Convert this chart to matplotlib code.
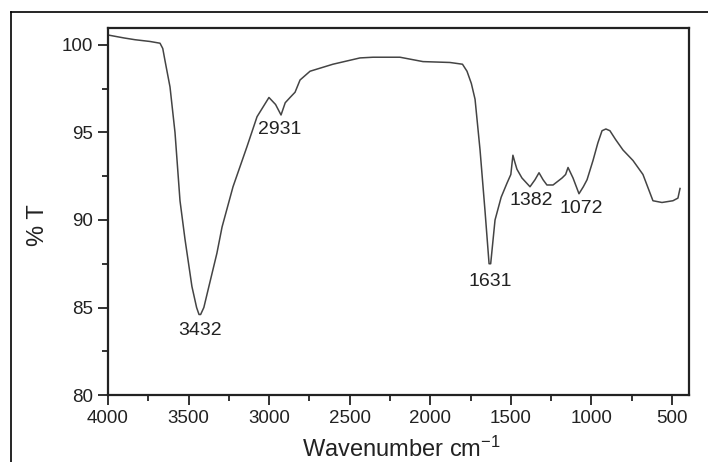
import matplotlib
matplotlib.use("Agg")
import matplotlib.pyplot as plt
from matplotlib.lines import Line2D
from matplotlib.ticker import MultipleLocator

plt.rcParams['font.family'] = ['Liberation Sans', 'DejaVu Sans']
plt.rcParams['mathtext.fontset'] = 'custom'
plt.rcParams['mathtext.rm'] = 'Liberation Sans'
plt.rcParams['mathtext.default'] = 'regular'

wavenumber = [4000, 3900, 3832, 3739, 3677, 3660, 3646, 3615, 3584, 3553, 3522, 3479, 3450, 3435, 3425,
              3405, 3379, 3324, 3292, 3224, 3137, 3075, 3001, 2960, 2926, 2900, 2870, 2839, 2808,
              2746, 2604, 2436, 2355, 2188, 2045, 1878, 1800, 1772, 1745, 1722, 1691, 1660, 1635, 1625,
              1598, 1560, 1524, 1500, 1487, 1475, 1462, 1431, 1381, 1350, 1325, 1300, 1276, 1238,
              1182, 1160, 1145, 1114, 1077, 1050, 1027, 990, 960, 934, 910, 885, 850, 804, 742,
              680, 618, 562, 494, 463, 450]
transmittance = [100.57, 100.4, 100.3, 100.2, 100.1, 99.8, 99.1, 97.6, 95.0, 91.1, 88.9, 86.2, 85.0, 84.6, 84.6,
                 85.0, 86.0, 88.1, 89.6, 91.9, 94.2, 95.9, 97.0, 96.6, 96.0, 96.7, 97.0, 97.3, 98.0,
                 98.5, 98.9, 99.26, 99.3, 99.3, 99.05, 99.0, 98.9, 98.5, 97.8, 96.9, 94.0, 90.5, 87.5, 87.5,
                 90.0, 91.3, 92.1, 92.6, 93.7, 93.3, 92.9, 92.4, 91.9, 92.3, 92.7, 92.3, 92.0, 92.0,
                 92.4, 92.6, 93.0, 92.4, 91.5, 91.9, 92.3, 93.4, 94.4, 95.1, 95.2, 95.1, 94.6, 94.0, 93.4,
                 92.6, 91.1, 91.0, 91.1, 91.25, 91.8]

peak_labels = ["3432", "2931", "1631", "1382", "1072"]
peak_x = [3429, 2933, 1629, 1375, 1065]
peak_label_y = [83.7, 95.17, 86.46, 91.1, 90.66]

fig = plt.figure(figsize=(7.08, 4.62), dpi=100)
ax = fig.add_axes([0.1525, 0.145, 0.8205, 0.7944])
ax.plot(wavenumber, transmittance, color='#444444', lw=1.1)

for lab, xv, yv in zip(peak_labels, peak_x, peak_label_y):
    ax.text(xv, yv, lab, ha='center', va='center', fontsize=14, color='#222222')

ax.set_xlim(4000, 395)
ax.set_ylim(80, 100.97)
ax.xaxis.set_major_locator(MultipleLocator(500))
ax.xaxis.set_minor_locator(MultipleLocator(250))
ax.yaxis.set_major_locator(MultipleLocator(5))
ax.yaxis.set_minor_locator(MultipleLocator(2.5))
ax.tick_params(which='both', direction='out', top=False, right=False, labelsize=13.5, colors='#222222')
ax.tick_params(which='major', length=7, width=1.3, pad=4)
ax.tick_params(which='minor', length=4, width=1.3)
for s in ax.spines.values():
    s.set_linewidth(1.6)
    s.set_color('#222222')

ax.set_xlabel('Wavenumber cm$^{-1}$', fontsize=17, color='#222222', va='center')
ax.xaxis.set_label_coords(0.505, -0.147)
ax.set_ylabel('% T', fontsize=17, color='#222222', va='center')
ax.yaxis.set_label_coords(-0.12, 0.463)

# outer image border
fig.add_artist(Line2D([11/708, 1.0], [1 - 12/462, 1 - 12/462], transform=fig.transFigure, color='black', lw=1.2))
fig.add_artist(Line2D([11/708, 11/708], [0.0, 1 - 12/462], transform=fig.transFigure, color='black', lw=1.2))

fig.savefig('out.png', dpi=100)
